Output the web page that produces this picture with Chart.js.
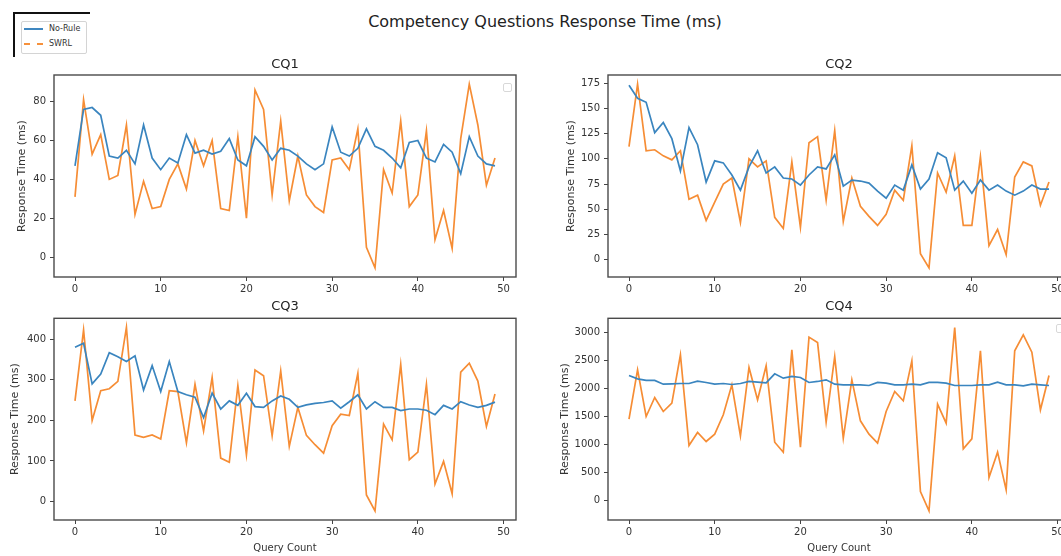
<!DOCTYPE html>
<html>
<head>
<meta charset="utf-8">
<script src="https://cdn.jsdelivr.net/npm/chart.js@4.4.1/dist/chart.umd.min.js"></script>
<style>
  html, body { margin: 0; padding: 0; background: #fff; overflow: hidden; }
  #page { position: relative; width: 1061px; height: 556px; overflow: hidden; background: #fff; font-family: "DejaVu Sans", sans-serif; }
  canvas { position: absolute; }
  #mainTitle { position: absolute; left: 0; width: 1090px; top: 12px; text-align: center; font-size: 16px; color: #222; }
  .blk { position: absolute; background: #111; }
  #legend { position: absolute; left: 21px; top: 21px; width: 64px; height: 31px; border: 1px solid #d4d4d4; border-radius: 2px; background: #fff; }
  .lg-line { position: absolute; left: 2px; width: 19px; height: 0; }
  .lg-text { position: absolute; left: 27px; font-size: 8px; color: #333; line-height: 10px; }
  .emptybox { position: absolute; width: 7px; height: 7px; border: 1px solid #d8d8d8; border-radius: 2px; background: #fff; }
</style>
</head>
<body>
<div id="page">
  <div id="mainTitle">Competency Questions Response Time (ms)</div>
  <div class="blk" style="left:13px; top:12px; width:77px; height:2px;"></div>
  <div class="blk" style="left:13px; top:12px; width:2px; height:45px;"></div>
  <div id="legend">
    <div class="lg-line" style="top:6px; border-top:2px solid #3f87c0;"></div>
    <div class="lg-text" style="top:2px;">No-Rule</div>
    <div class="lg-line" style="top:21px; border-top:2px dashed #f6913c;"></div>
    <div class="lg-text" style="top:17px;">SWRL</div>
  </div>
  <canvas id="c1" width="530" height="252" style="left:0px; top:50px;"></canvas>
  <canvas id="c2" width="530" height="252" style="left:554px; top:50px;"></canvas>
  <canvas id="c3" width="530" height="264" style="left:0px; top:292px;"></canvas>
  <canvas id="c4" width="530" height="264" style="left:554px; top:292px;"></canvas>
  <div class="emptybox" style="left:503px; top:83px;"></div>
  <div class="emptybox" style="left:1056px; top:324px;"></div>
</div>
<script>
// ---- data ----
const queryCount = [0,1,2,3,4,5,6,7,8,9,10,11,12,13,14,15,16,17,18,19,20,21,22,23,24,25,26,27,28,29,30,31,32,33,34,35,36,37,38,39,40,41,42,43,44,45,46,47,48,49];
const xTickValues = [0,10,20,30,40,50];

const cq1NoRule = [47,76,77,73,52,51,55,48,68,51, 45,51,48.5,63,53.5,55,53,54.5,61,50, 47,62,57,50,56,55,52,48,45,48, 67,54,52,56,66,57,55,51,46,59, 60,51,49,58,54,43,62,52,48,47];
const cq1Swrl   = [31,81,53,63,40,42,68,22,39,25, 26,40,48,35,60,47,60,25,24,62, 20,86,76,32,70,29,52,32,26,23, 50,51,45,66,5,-5.5,45,33,70,26, 32,65,9,24,4.5,61,89,68,37,51];
const cq1Ticks  = [0,20,40,60,80];

const cq2NoRule = [173,160,156,126,136,120,88,131,114,77, 98,96,84,69,92,108,86,92,81,80, 74,84,92,90,104,73,79,78,76,68, 61,74,69,94,70,80,106,101,69,78, 66,79,69,74,68,64,68,74,70,70];
const cq2Swrl   = [112,174,108,109,103,99,108,60,64,39, 57,75,81,37,100,92,98,42,31,97, 32,116,122,59,128,38,81,53,43,34, 45,69,59,113,6,-8,86,67,103,34, 34,102,14,30,5,82,97,93,54,77];
const cq2Ticks  = [0,25,50,75,100,125,150,175];

const cq3NoRule = [380,390,290,314,367,357,345,359,275,335, 271,345,271,263,257,207,267,228,248,237, 267,234,232,248,260,252,232,238,242,244, 248,230,246,263,228,246,232,232,224,228, 228,225,214,237,228,246,238,232,237,245];
const cq3Swrl   = [248,423,200,273,278,296,429,164,158,164, 154,273,271,145,289,174,306,107,97,286, 115,324,310,162,322,136,232,163,140,119, 187,215,212,316,16,-23,191,152,338,103, 122,289,43,99,19,319,341,297,185,265];
const cq3Ticks  = [0,100,200,300,400];

const cq4NoRule = [2233,2174,2145,2145,2079,2085,2091,2091,2133,2109, 2079,2091,2073,2091,2127,2115,2103,2263,2186,2216, 2198,2109,2127,2156,2079,2067,2067,2067,2055,2109, 2097,2067,2067,2079,2067,2109,2109,2097,2055,2055, 2055,2067,2067,2115,2067,2067,2049,2079,2067,2055];
const cq4Swrl   = [1455,2334,1503,1841,1592,1740,2602,986,1218,1057, 1188,1533,2067,1158,2376,1800,2406,1045,867,2691, 956,2917,2820,1402,2572,1117,2156,1426,1188,1028, 1592,1948,1782,2495,166,-178,1723,1384,3089,927, 1105,2673,416,867,196,2673,2958,2649,1622,2233];
const cq4Ticks  = [0,500,1000,1500,2000,2500,3000];

const seriesNames = ['No-Rule', 'SWRL'];
const blue = '#3a85bf';
const orange = '#f68d35';
const FONT = '"DejaVu Sans", sans-serif';

const framePlugin = {
  id: 'frame',
  afterDraw(chart) {
    const a = chart.chartArea, ctx = chart.ctx;
    ctx.save();
    ctx.strokeStyle = '#4a4a4a';
    ctx.lineWidth = 1.4;
    ctx.strokeRect(a.left, a.top, a.right - a.left, a.bottom - a.top);
    ctx.restore();
  }
};

function pts(vals) { return vals.map((v, i) => ({ x: queryCount[i], y: v })); }

function makeChart(id, title, noRule, swrl, yTicks, opt) {
  const all = noRule.concat(swrl);
  const lo = Math.min(...all), hi = Math.max(...all);
  const m = (hi - lo) * 0.05;
  const xm = (queryCount[queryCount.length - 1] - queryCount[0]) * 0.05;
  new Chart(document.getElementById(id), {
    type: 'line',
    data: {
      datasets: [
        { label: seriesNames[0], data: pts(noRule), borderColor: blue, borderWidth: 1.7, pointRadius: 0, tension: 0, fill: false },
        { label: seriesNames[1], data: pts(swrl), borderColor: orange, borderWidth: 1.7, pointRadius: 0, tension: 0, fill: false }
      ]
    },
    options: {
      responsive: false,
      animation: false,
      devicePixelRatio: 1,
      layout: { padding: { left: 0, right: 14, top: 0, bottom: 0 } },
      plugins: {
        legend: { display: false },
        tooltip: { enabled: false },
        title: { display: true, fullSize: false, text: title, color: '#222', font: { family: FONT, size: 13, weight: 'normal' }, padding: { top: opt.tTop, bottom: opt.tBot } }
      },
      scales: {
        x: {
          type: 'linear',
          min: queryCount[0] - xm,
          max: queryCount[queryCount.length - 1] + xm,
          afterBuildTicks: s => { s.ticks = xTickValues.map(v => ({ value: v })); },
          afterFit: s => { s.height = opt.xH; },
          grid: { display: true, drawOnChartArea: false, drawTicks: true, tickLength: 4, color: '#444' },
          border: { display: false },
          ticks: { color: '#333', font: { family: FONT, size: 10 }, padding: 2, maxRotation: 0, autoSkip: false, callback: v => String(v) },
          title: { display: opt.xTitle, text: 'Query Count', color: '#333', font: { family: FONT, size: 10 }, padding: { top: 0, bottom: 1.5 } }
        },
        y: {
          type: 'linear',
          min: lo - m,
          max: hi + m,
          afterBuildTicks: s => { s.ticks = yTicks.map(v => ({ value: v })); },
          afterFit: s => { s.width = 54; },
          grid: { display: true, drawOnChartArea: false, drawTicks: true, tickLength: 4, color: '#444' },
          border: { display: false },
          ticks: { color: '#333', font: { family: FONT, size: 10 }, padding: 4, autoSkip: false, callback: v => String(v) },
          title: { display: true, text: 'Response Time (ms)', color: '#333', font: { family: FONT, size: 11 }, padding: { top: opt.yPad, bottom: 0 } }
        }
      }
    },
    plugins: [framePlugin]
  });
}

makeChart('c1', 'CQ1', cq1NoRule, cq1Swrl, cq1Ticks, { tTop: 7.2, tBot: 2.2, xH: 25, xTitle: false, yPad: 16 });
makeChart('c2', 'CQ2', cq2NoRule, cq2Swrl, cq2Ticks, { tTop: 7.2, tBot: 2.2, xH: 25, xTitle: false, yPad: 11 });
makeChart('c3', 'CQ3', cq3NoRule, cq3Swrl, cq3Ticks, { tTop: 7.2, tBot: 3.5, xH: 36, xTitle: true, yPad: 8.5 });
makeChart('c4', 'CQ4', cq4NoRule, cq4Swrl, cq4Ticks, { tTop: 7.2, tBot: 3.5, xH: 36, xTitle: true, yPad: 4.5 });
</script>
</body>
</html>
